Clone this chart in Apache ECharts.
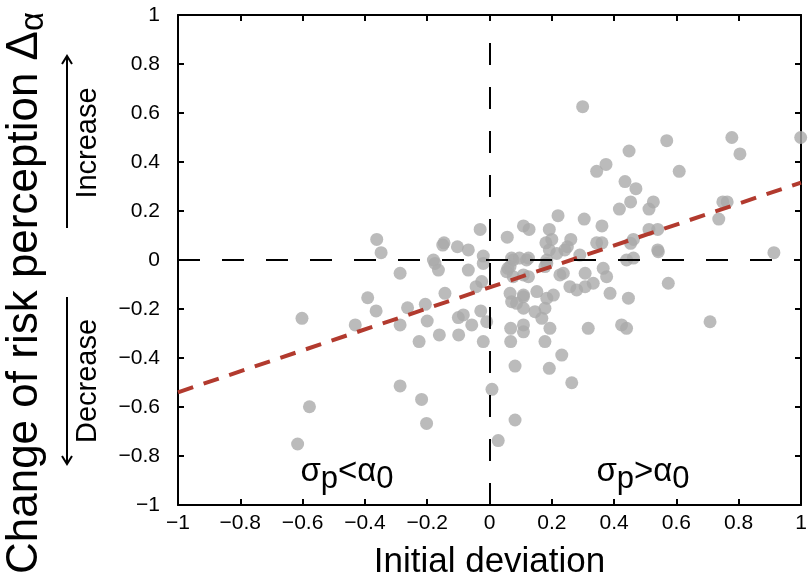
<!DOCTYPE html>
<html>
<head>
<meta charset="utf-8">
<title>Initial deviation vs change of risk perception</title>
<script src="https://cdn.jsdelivr.net/npm/echarts@6/dist/echarts.min.js"></script>
<style>
    html, body { margin: 0; padding: 0; background: #fff; }
    #chart { width: 810px; height: 585px; }
</style>
</head>
<body>
<div id="chart"></div>
<script>
// 散点数据 (initial deviation, change of risk perception)
var devX = [
    -0.616, -0.578, -0.602, -0.431, -0.391, -0.364, -0.362, -0.348, -0.287, -0.287,
    -0.287, -0.263, -0.226, -0.218, -0.206, -0.202, -0.200, -0.180, -0.175, -0.164,
    -0.161, -0.150, -0.146, -0.143, -0.103, -0.100, -0.099, -0.084, -0.068, -0.068,
    -0.057, -0.043, -0.030, -0.028, -0.025, -0.020, -0.020, -0.020, -0.009,
    0.008, 0.028, 0.082, 0.057, 0.071, 0.096, 0.125, 0.109, 0.127, 0.059,
    0.076, 0.119, 0.109, 0.125, 0.055, 0.076, 0.066, 0.109, 0.071, 0.087,
    0.109, 0.109, 0.152, 0.184, 0.146, 0.178, 0.168, 0.194, 0.109, 0.109,
    0.068, 0.068, 0.178, 0.082, 0.192, 0.232, 0.264, 0.205, 0.184, 0.216,
    0.290, 0.184, 0.178, 0.226, 0.237, 0.307, 0.258, 0.280, 0.307, 0.333,
    0.365, 0.376, 0.387, 0.440, 0.462, 0.446, 0.574, 0.542, 0.317, 0.424,
    0.440, 0.708, 0.913, 0.181, 0.192, 0.200, 0.192, 0.220, 0.250, 0.261,
    0.242, 0.304, 0.344, 0.361, 0.361, 0.453, 0.462, 0.512, 0.540, 0.540,
    0.417, 0.453, 0.512, 0.526, 0.470, 0.435, 0.344, 0.374, 0.448, 0.299,
    0.569, 0.609, 0.736, 0.749, 0.763, 0.778, 0.804, 0.999, 0.066
];
var deltaY = [
    -0.751, -0.599, -0.238, -0.265, -0.154, -0.208, 0.084, 0.030, -0.054, -0.265,
    -0.514, -0.195, -0.333, -0.569, -0.181, -0.667, -0.249, 0.000, -0.014, -0.041,
    -0.306, 0.061, 0.070, -0.136, 0.054, -0.235, -0.306, -0.224, 0.041, -0.041,
    -0.265, -0.109, 0.125, -0.208, -0.088, 0.016, -0.014, -0.333, -0.252,
    -0.528, -0.737, -0.653, 0.093, 0.008, 0.008, 0.008, 0.139, 0.125, -0.034,
    0.000, 0.000, -0.061, -0.068, -0.048, -0.068, -0.136, -0.143, -0.170, -0.177,
    -0.150, -0.197, -0.129, -0.156, -0.211, -0.197, -0.238, -0.279, -0.265, -0.293,
    -0.279, -0.333, -0.333, -0.433, -0.442, -0.388, -0.501, -0.143, 0.000, 0.027,
    0.020, -0.014, -0.027, -0.061, -0.054, -0.054, -0.109, -0.122, -0.109, -0.095,
    -0.034, -0.068, -0.136, 0.000, 0.008, -0.156, -0.095, 0.034, -0.279, -0.265,
    -0.279, -0.252, 0.030, 0.070, 0.041, 0.084, 0.125, 0.181, 0.054, 0.084,
    0.041, 0.167, 0.070, 0.070, 0.139, 0.068, 0.084, 0.125, 0.125, 0.041,
    0.208, 0.237, 0.208, 0.237, 0.291, 0.320, 0.362, 0.390, 0.445, 0.626,
    0.487, 0.362, 0.167, 0.237, 0.237, 0.500, 0.433, 0.500, -0.027
];

// 拟合直线两端
var fitX = [-1, 1];
var fitY = [-0.540, 0.316];

// 刻度
var tickMin = -1, tickMax = 1, tickStep = 0.2;

var fmt = function(v){
    var s = Math.abs(v) < 1e-9 ? '0' : String(Math.round(v * 10) / 10);
    return s.replace('-', '\u2212');
};

var points = [];
for (var i = 0; i < devX.length; i++) {
    points.push([devX[i], deltaY[i]]);
}
var fitLine = [];
for (var j = 0; j < fitX.length; j++) {
    fitLine.push([fitX[j], fitY[j]]);
}

var font = '"Liberation Sans", Arial, sans-serif';

var axisBase = function(pos, isX, showLabel){
    return {
        type: 'value',
        position: pos,
        min: tickMin,
        max: tickMax,
        interval: tickStep,
        axisLine: { show: true, onZero: false, lineStyle: { color: '#000', width: 2 } },
        axisTick: { show: true, inside: true, length: 6, lineStyle: { color: '#000', width: 2 } },
        splitLine: { show: false },
        axisLabel: {
            show: showLabel,
            formatter: fmt,
            color: '#000',
            fontFamily: font,
            fontSize: 21,
            margin: isX ? 8 : 18
        }
    };
};

var xBottom = axisBase('bottom', true, true);
xBottom.name = 'Initial deviation';
xBottom.nameLocation = 'middle';
xBottom.nameGap = 40;
xBottom.nameTextStyle = { color: '#000', fontFamily: font, fontSize: 35 };

var yLeft = axisBase('left', false, true);
yLeft.name = 'Change of risk perception \u0394{sub|\u03b1}';
yLeft.nameLocation = 'middle';
yLeft.nameGap = 128;
yLeft.nameTextStyle = {
    color: '#000', fontFamily: font, fontSize: 44,
    padding: [0, 66, 0, 0],
    rich: {
        sub: { fontFamily: font, fontSize: 33, color: '#000', padding: [17, 0, 0, 0] }
    }
};

var sigmaRich = {
    s: { fontFamily: font, fontSize: 33, color: '#000', lineHeight: 44 },
    sub: { fontFamily: font, fontSize: 31, color: '#000', lineHeight: 44, padding: [14, 0, 0, 0] }
};

var chart = echarts.init(document.getElementById('chart'), null, { renderer: 'canvas' });

var option = {
    animation: false,
    grid: { left: 178, right: 9, top: 15, bottom: 80, containLabel: false, outerBoundsMode: 'none' },
    xAxis: [xBottom, axisBase('top', true, false)],
    yAxis: [yLeft, axisBase('right', false, false)],
    series: [
        {
            name: 'subjects',
            type: 'scatter',
            data: points,
            symbolSize: 13,
            itemStyle: { color: '#aaaaaa' },
            z: 2
        },
        {
            name: 'fit',
            type: 'line',
            data: fitLine,
            symbol: 'none',
            lineStyle: { color: '#b23a2e', width: 4, type: [16, 11] },
            z: 4,
            markLine: {
                silent: true,
                symbol: 'none',
                label: { show: false },
                lineStyle: { color: '#000', width: 2, type: [22, 22] },
                data: [{ xAxis: 0 }, { yAxis: 0 }]
            }
        }
    ],
    graphic: [
        // Increase 箭头
        { type: 'line', shape: { x1: 67, y1: 228, x2: 67, y2: 57 }, style: { stroke: '#000', lineWidth: 2 } },
        { type: 'polyline', shape: { points: [[62, 64], [67, 56], [72, 64]] }, style: { stroke: '#000', lineWidth: 2, fill: null } },
        { type: 'text', x: 88, y: 143, rotation: Math.PI / 2,
          style: { text: 'Increase', font: '29px ' + font, fill: '#000', align: 'center', verticalAlign: 'middle' } },
        // Decrease 箭头
        { type: 'line', shape: { x1: 67, y1: 297, x2: 67, y2: 463 }, style: { stroke: '#000', lineWidth: 2 } },
        { type: 'polyline', shape: { points: [[62, 456], [67, 464], [72, 456]] }, style: { stroke: '#000', lineWidth: 2, fill: null } },
        { type: 'text', x: 88, y: 381, rotation: Math.PI / 2,
          style: { text: 'Decrease', font: '29px ' + font, fill: '#000', align: 'center', verticalAlign: 'middle' } },
        // 区域标注
        { type: 'text', x: 347, y: 472,
          style: { text: '{s|\u03c3}{sub|p}{s|<\u03b1}{sub|0}', rich: sigmaRich, align: 'center', verticalAlign: 'middle' } },
        { type: 'text', x: 643, y: 472,
          style: { text: '{s|\u03c3}{sub|p}{s|>\u03b1}{sub|0}', rich: sigmaRich, align: 'center', verticalAlign: 'middle' } }
    ]
};

chart.setOption(option);
</script>
</body>
</html>
